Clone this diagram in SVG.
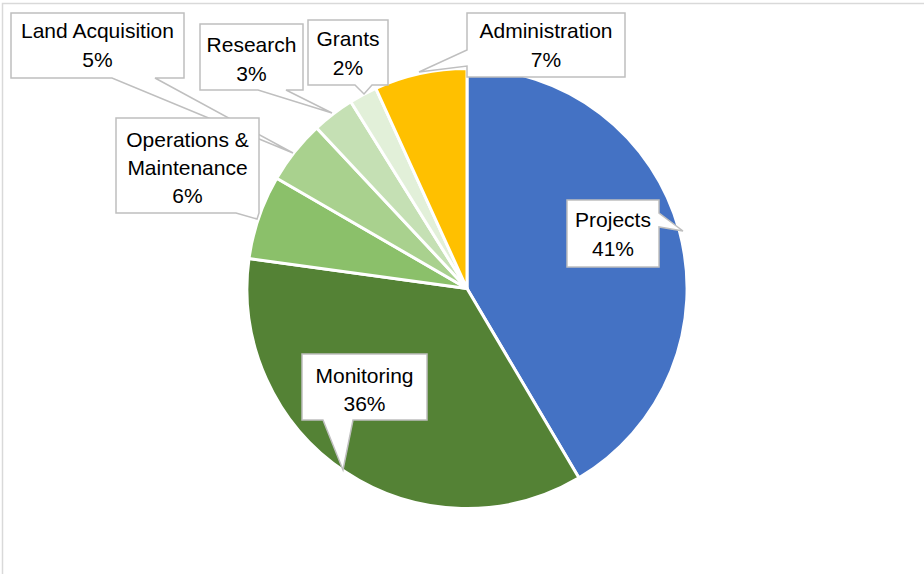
<svg xmlns="http://www.w3.org/2000/svg" width="924" height="574" viewBox="0 0 924 574">
<style>
.slice{stroke:#FFFFFF;stroke-width:3;stroke-linejoin:round}
.callout{fill:#FFFFFF;stroke:#BFBFBF;stroke-width:1.5;stroke-linejoin:miter}
.lbl{font-family:"Liberation Sans",Arial,sans-serif;font-size:21px;fill:#000000;text-anchor:middle}
</style>
<rect x="0" y="0" width="924" height="574" fill="#FFFFFF"/>
<rect x="2.5" y="3.5" width="960" height="620" fill="none" stroke="#D9D9D9" stroke-width="1.5"/>
<g id="pie">
<g id="slice-projects"><path class="slice" fill="#4472C4" d="M467,288.5 L467,68.5 A220,220 0 0 1 579,477.9 Z"/></g>
<g id="slice-monitoring"><path class="slice" fill="#548235" d="M467,288.5 L579,477.9 A220,220 0 0 1 249,258.6 Z"/></g>
<g id="slice-om"><path class="slice" fill="#8BC06A" d="M467,288.5 L249,258.6 A220,220 0 0 1 276.7,178.2 Z"/></g>
<g id="slice-land"><path class="slice" fill="#A9D18E" d="M467,288.5 L276.7,178.2 A220,220 0 0 1 316.7,127.9 Z"/></g>
<g id="slice-research"><path class="slice" fill="#C5E0B4" d="M467,288.5 L316.7,127.9 A220,220 0 0 1 350.8,101.7 Z"/></g>
<g id="slice-grants"><path class="slice" fill="#E2F0D9" d="M467,288.5 L350.8,101.7 A220,220 0 0 1 375.8,88.3 Z"/></g>
<g id="slice-admin"><path class="slice" fill="#FFC000" d="M467,288.5 L375.8,88.3 A220,220 0 0 1 467,68.5 Z"/></g>
</g>
<g id="connectors"></g>
<g id="label-projects">
<path class="callout" d="M567,200 H659 V213 L683,231 L659,227 V267 H567 Z"/>
<text class="lbl" x="613" y="227">Projects</text>
<text class="lbl" x="613" y="256">41%</text>
</g>
<g id="label-monitoring">
<path class="callout" d="M302,354 H427 V420 H353 L343,470 L323,420 H302 Z"/>
<text class="lbl" x="364.5" y="383">Monitoring</text>
<text class="lbl" x="364.5" y="411">36%</text>
</g>
<g id="label-land">
<path class="callout" d="M11,13 H184 V78 H155 L293,153 L112,78 H11 Z"/>
<text class="lbl" x="97.5" y="38">Land Acquisition</text>
<text class="lbl" x="97.5" y="67">5%</text>
</g>
<g id="label-om">
<path class="callout" d="M116,118 H259 V213 L257,219 L236,213 H116 Z"/>
<text class="lbl" x="187.5" y="147">Operations &amp;</text>
<text class="lbl" x="187.5" y="175">Maintenance</text>
<text class="lbl" x="187.5" y="203">6%</text>
</g>
<g id="label-research">
<path class="callout" d="M200,24 H303 V90 H286 L332,113 L258,90 H200 Z"/>
<text class="lbl" x="251.5" y="52">Research</text>
<text class="lbl" x="251.5" y="81">3%</text>
</g>
<g id="label-grants">
<path class="callout" d="M308,20 H388 V85 H372 L364,94 L355,85 H308 Z"/>
<text class="lbl" x="348" y="46">Grants</text>
<text class="lbl" x="348" y="75">2%</text>
</g>
<g id="label-admin">
<path class="callout" d="M467,13 H625 V77 H467 V66 L419,72 L467,50 Z"/>
<text class="lbl" x="546" y="38">Administration</text>
<text class="lbl" x="546" y="67">7%</text>
</g>
</svg>
